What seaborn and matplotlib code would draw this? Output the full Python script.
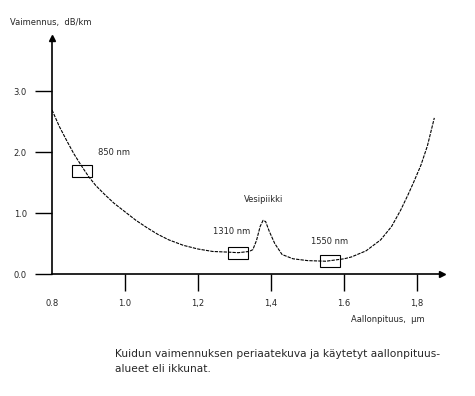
import pandas as pd
import seaborn as sns
import matplotlib.pyplot as plt
from matplotlib.patches import Rectangle

# attenuation curve (wavelength um, dB/km)
wavelength = [0.80, 0.82, 0.84, 0.86, 0.88, 0.90, 0.92, 0.945, 0.97, 1.00,
              1.03, 1.06, 1.09, 1.12, 1.16, 1.20, 1.24, 1.28, 1.31, 1.34,
              1.35, 1.36, 1.37, 1.378, 1.385, 1.395, 1.41, 1.43, 1.46, 1.50,
              1.55, 1.60, 1.62, 1.66, 1.70, 1.73, 1.755, 1.775, 1.79, 1.81,
              1.828, 1.847]
attenuation = [2.69, 2.42, 2.19, 1.97, 1.78, 1.60, 1.45, 1.30, 1.16, 1.02,
               0.88, 0.76, 0.65, 0.56, 0.47, 0.41, 0.37, 0.36, 0.35, 0.37,
               0.40, 0.55, 0.78, 0.88, 0.86, 0.70, 0.50, 0.32, 0.25, 0.22,
               0.21, 0.25, 0.28, 0.38, 0.56, 0.78, 1.05, 1.30, 1.50, 1.78,
               2.10, 2.56]

# transmission windows
window_labels = ['850 nm', '1310 nm', '1550 nm']
window_x = [0.882, 1.31, 1.562]
window_y = [1.69, 0.34, 0.21]

x_ticks = [0.8, 1.0, 1.2, 1.4, 1.6, 1.8]
x_ticklabels = ['0.8', '1.0', '1,2', '1,4', '1.6', '1,8']
y_ticks = [0.0, 1.0, 2.0, 3.0]
y_ticklabels = ['0.0', '1.0', '2.0', '3.0']

df = pd.DataFrame({'wl': wavelength, 'att': attenuation})

sns.set_style('white')
plt.rcParams['font.family'] = ['DejaVu Sans']

fig = plt.figure(figsize=(4.75, 3.96), dpi=100)
ax = fig.add_axes([0.1095, 0.308, 0.821, 0.596])

sns.lineplot(data=df, x='wl', y='att', ax=ax, color='black', lw=0.8,
             linestyle=(0, (3, 1)))

for x, y in zip(window_x, window_y):
    ax.add_patch(Rectangle((x - 0.0275, y - 0.1), 0.055, 0.2, fill=False,
                           ec='black', lw=0.8))

ax.text(0.925, 2.0, '850 nm', fontsize=6, va='center')
ax.text(1.24, 0.69, '1310 nm', fontsize=6, va='center')
ax.text(1.51, 0.54, '1550 nm', fontsize=6, va='center')
ax.text(1.38, 1.23, 'Vesipiikki', fontsize=6, va='center', ha='center')

ax.set_xlim(0.8, 1.868)
ax.set_ylim(0, 3.87)
ax.set_xticks(x_ticks)
ax.set_xticklabels(x_ticklabels, fontsize=6)
ax.set_yticks(y_ticks)
ax.set_yticklabels(y_ticklabels, fontsize=6)
ax.tick_params(axis='both', length=12, width=1, color='black', direction='out',
               pad=6, left=True, bottom=True)
ax.xaxis.get_major_ticks()[0].tick1line.set_visible(False)
ax.set_xlabel('')
ax.set_ylabel('')

for side in ['top', 'right']:
    ax.spines[side].set_visible(False)
for side in ['left', 'bottom']:
    ax.spines[side].set_color('black')
    ax.spines[side].set_linewidth(1.2)

# axis arrows
ax.plot(1, 0, '>k', ms=5, transform=ax.transAxes, clip_on=False)
ax.plot(0, 1, '^k', ms=5, transform=ax.transAxes, clip_on=False)

fig.text(0.021, 0.944, 'Vaimennus,  dB/km', fontsize=6, va='center')
fig.text(0.893, 0.194, 'Aallonpituus,  \u03bcm', fontsize=6, va='center',
         ha='right')
fig.text(0.242, 0.106, 'Kuidun vaimennuksen periaatekuva ja k\u00e4ytetyt aallonpituus-',
         fontsize=7.7, va='center')
fig.text(0.242, 0.068, 'alueet eli ikkunat.', fontsize=7.7, va='center')

fig.savefig('out.png', dpi=100)
